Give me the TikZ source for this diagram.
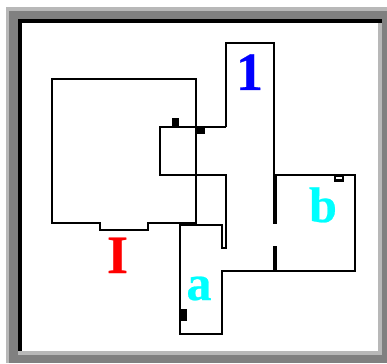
\documentclass[tikz,border=0pt]{standalone}
\usepackage{fontspec}
\setmainfont{Liberation Serif}
\newfontfamily\labelfont[FakeBold=0.5]{Liberation Serif Bold}
\definecolor{purecyan}{RGB}{0,255,255}
\definecolor{pureblue}{RGB}{0,0,255}
\definecolor{purered}{RGB}{255,0,0}

\begin{document}
\begin{tikzpicture}[
    x=1pt, y=-1pt,
    wall/.style={draw=black, line width=1.6pt},
    door/.style={fill=black},
    doorgap/.style={line width=3.4pt},
    label/.style={inner sep=0pt, anchor=base, font=\labelfont\fontsize{54}{54}\selectfont},
    smalllabel/.style={label, font=\labelfont\fontsize{50}{50}\selectfont}
]
\useasboundingbox (0,0) rectangle (387,363);

% frame
\fill[black!28] (6,7) rectangle (387,362.5);
\fill[black!50] (9,11) rectangle (387,362.5);
\fill[black!28] (18,19) rectangle (382,355);
\fill[black] (18,19) rectangle (382,23);
\fill[black] (18,19) rectangle (22,351);
\fill[white] (22,23) rectangle (378,351);

% rooms
\draw[wall] (196,223) -- (148,223) -- (148,230) -- (100,230) -- (100,223) -- (52,223)
    -- (52,79) -- (196,79) -- (196,225);
\draw[wall] (226,127) -- (160,127) -- (160,175) -- (226,175) -- (226,248) -- (222,248) -- (222,225) -- (180,225);
\draw[wall] (226,127) -- (226,43) -- (274,43) -- (274,175) -- (355,175) -- (355,271) -- (222,271)
    -- (222,334) -- (180,334) -- (180,224);

% doors
\fill[door] (180,223) rectangle (196.5,225.5);
\draw[doorgap] (275,175) -- (275,224);
\draw[doorgap] (275,246) -- (275,271);
\fill[door] (172,118) rectangle (179,127);
\fill[door] (196,127) rectangle (205,134);
\fill[door] (180,309) rectangle (187,321);
\fill[door] (334,175) rectangle (344,182);
\fill[white] (336,176.5) rectangle (342,179);

% labels
\node[label, text=pureblue] (one) at (249.5,90) {1};
\node[label, text=purered] (big) at (117.5,273) {I};
\node[smalllabel, text=purecyan] (a) at (199,300) {a};
\node[smalllabel, text=purecyan] (b) at (323,222) {b};

\end{tikzpicture}
\end{document}
